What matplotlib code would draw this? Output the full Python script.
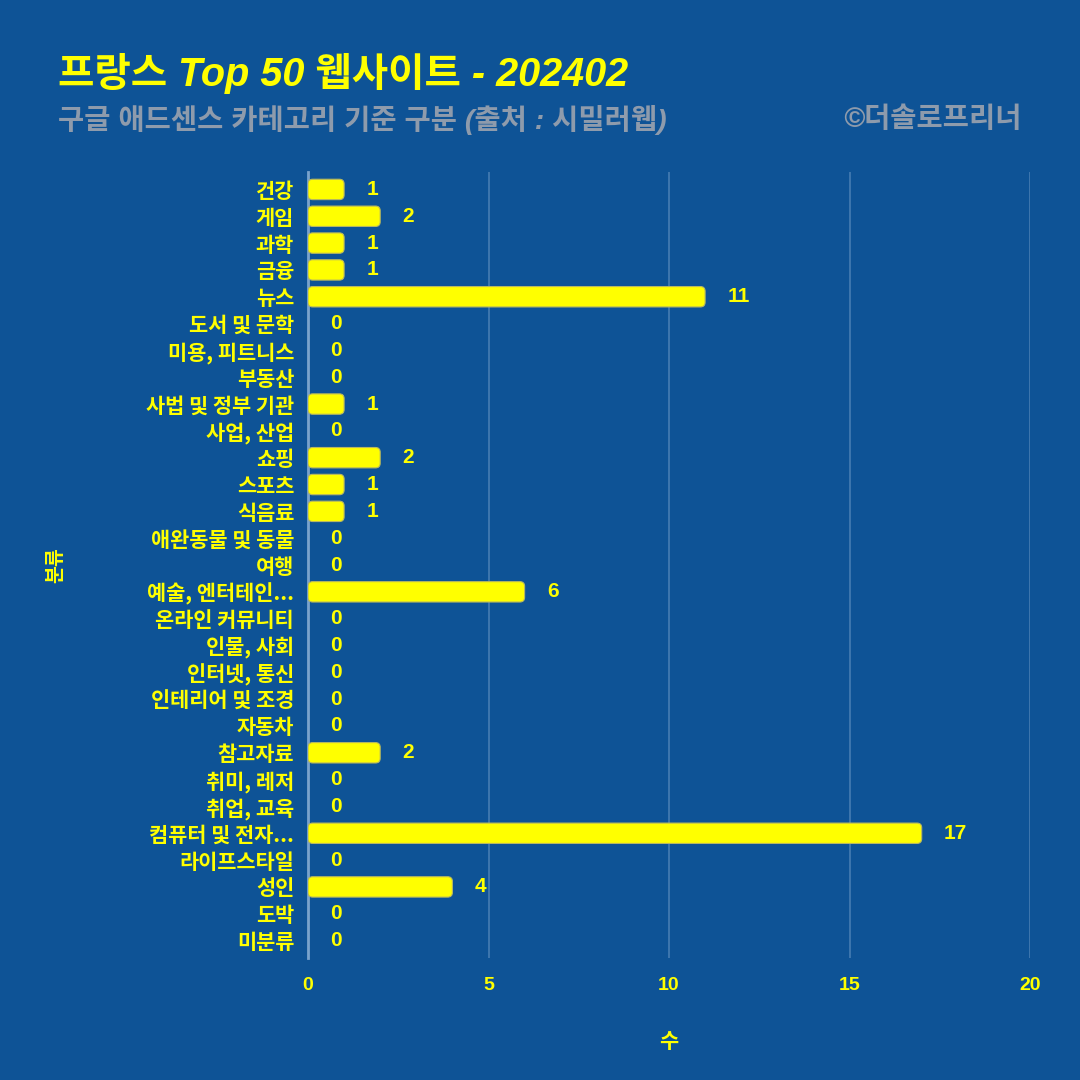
import matplotlib
matplotlib.use("Agg")
import matplotlib.pyplot as plt
from matplotlib.patches import FancyBboxPatch

plt.rcParams['font.family'] = ['Liberation Sans', 'Noto Sans CJK KR', 'DejaVu Sans']
KR = ['Noto Sans CJK KR', 'DejaVu Sans']
LAT = ['Liberation Sans', 'Noto Sans CJK KR', 'DejaVu Sans']

categories = ["건강", "게임", "과학", "금융", "뉴스", "도서 및 문학", "미용, 피트니스", "부동산",
              "사법 및 정부 기관", "사업, 산업", "쇼핑", "스포츠", "식음료", "애완동물 및 동물", "여행",
              "예술, 엔터테인...", "온라인 커뮤니티", "인물, 사회", "인터넷, 통신", "인테리어 및 조경",
              "자동차", "참고자료", "취미, 레저", "취업, 교육", "컴퓨터 및 전자...", "라이프스타일",
              "성인", "도박", "미분류"]
values = [1, 2, 1, 1, 11, 0, 0, 0, 1, 0, 2, 1, 1, 0, 0, 6, 0, 0, 0, 0, 0, 2, 0, 0, 17, 0, 4, 0, 0]
xticks = [0, 5, 10, 15, 20]

BG = "#0E5396"
YEL = "#FFFF00"
GRAY = "#8E9BAC"

fig = plt.figure(figsize=(10.8, 10.8), dpi=100)
fig.patch.set_facecolor(BG)
ax = fig.add_axes([308/1080, 1 - 958/1080, (1030-308)/1080, (958-172)/1080])
ax.set_facecolor(BG)

ypos = list(range(len(categories)))
bars = ax.barh(ypos, values, height=0.76, color=YEL, alpha=0)
for b in bars:
    if b.get_width() > 0:
        p = FancyBboxPatch((b.get_x(), b.get_y()), b.get_width(), b.get_height(),
                           boxstyle="round,pad=0,rounding_size=0.13",
                           mutation_aspect=1.34, facecolor=YEL, edgecolor="#b8b860",
                           linewidth=0.8, zorder=3)
        ax.add_patch(p)

for y, v in zip(ypos, values):
    ax.annotate(str(v), xy=(v, y), xytext=(16, 0), textcoords="offset points",
                ha="left", va="center", color=YEL, fontsize=15, fontweight="bold",
                family=LAT)

ax.set_ylim(len(categories) - 0.35, -0.65)
ax.set_xlim(0, 20)
ax.set_xticks(xticks)
ax.set_xticklabels([str(t) for t in xticks], color=YEL, fontsize=14, fontweight="bold",
                   family=LAT)
ax.set_yticks(ypos)
ax.set_yticklabels(categories, color=YEL, fontsize=15, fontweight="bold", family=KR)
ax.tick_params(axis="both", length=0)
ax.tick_params(axis="x", pad=14)
ax.tick_params(axis="y", pad=10)
ax.grid(axis="x", color="#6a97c4", linewidth=1.2, alpha=0.6, zorder=0)
ax.set_axisbelow(True)
for s in ["top", "right", "bottom"]:
    ax.spines[s].set_visible(False)
ax.spines["left"].set_color("#7aa3cc")
ax.spines["left"].set_linewidth(2)

ax.set_xlabel("수", color=YEL, fontsize=15, fontweight="bold", labelpad=26, family=KR)
ax.set_ylabel("분류", color=YEL, fontsize=14, fontweight="bold", family=KR)
ax.yaxis.set_label_coords((65 - 308) / (1030 - 308), 0.5, transform=ax.transAxes)

fig.text(58/1080, 1 - 73/1080, "프랑스 Top 50 웹사이트 - 202402", color=YEL, fontsize=28.5,
         fontweight="bold", style="italic", va="center", ha="left", family=LAT)
fig.text(58/1080, 1 - 120/1080, "구글 애드센스 카테고리 기준 구분 (출처 : 시밀러웹)", color=GRAY,
         fontsize=20.5, fontweight="bold", style="italic", va="center", ha="left", family=LAT)
fig.text(1022/1080, 1 - 120/1080, "©더솔로프리너", color=GRAY,
         fontsize=20.5, fontweight="bold", style="italic", va="center", ha="right", family=LAT)

fig.savefig("out.png", dpi=100, facecolor=BG)
